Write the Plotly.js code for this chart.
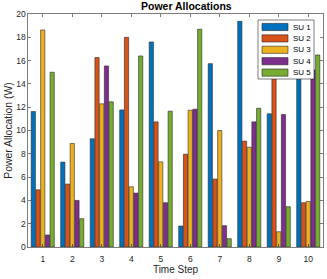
<!DOCTYPE html>
<html>
<head>
<meta charset="utf-8">
<script src="https://cdn.plot.ly/plotly-3.0.1.min.js"></script>
<style>html,body{margin:0;padding:0;background:#fff;}#chart{width:327px;height:279px;}</style>
</head>
<body>
<div id="chart"></div>
<script>
const timeSteps = [1,2,3,4,5,6,7,8,9,10];
const seriesNames = ["SU 1","SU 2","SU 3","SU 4","SU 5"];
const su1 = [11.63, 7.29, 9.29, 11.77, 17.6, 1.8, 15.74, 19.37, 11.43, 15.6];
const su2 = [4.91, 5.4, 16.26, 18.0, 10.74, 7.97, 5.83, 9.09, 16.8, 3.8];
const su3 = [18.63, 8.89, 12.29, 5.17, 7.31, 11.74, 10.0, 8.57, 1.31, 3.91];
const su4 = [1.03, 4.0, 15.54, 4.63, 3.8, 11.83, 1.83, 10.74, 11.37, 15.2];
const su5 = [15.0, 2.43, 12.46, 16.4, 11.66, 18.69, 0.71, 11.91, 3.46, 16.48];
const colors = ["#0072BD","#D95319","#EDB120","#7E2F8E","#77AC30"];
const allSeries = [su1, su2, su3, su4, su5];

const W = 327, H = 279;
const M = {l: 28, r: 4, t: 14, b: 32};
const PW = W - M.l - M.r, PH = H - M.t - M.b;
// helpers to convert pixel positions to paper fractions (legend layout only)
const px = x => (x - M.l) / PW;
const py = y => (H - M.b - y) / PH;

const traces = allSeries.map((vals, i) => ({
  type: "bar",
  x: timeSteps,
  y: vals,
  name: seriesNames[i],
  marker: {color: colors[i], line: {color: "#2a2a2a", width: 0.6}}
}));

// custom legend (MATLAB style)
const legBox = {x0: 258, x1: 314, y0: 20, y1: 79};
const shapes = [{
  type: "rect", xref: "paper", yref: "paper",
  x0: px(legBox.x0), x1: px(legBox.x1), y0: py(legBox.y1), y1: py(legBox.y0),
  fillcolor: "#fff", line: {color: "#262626", width: 0.6}, layer: "above"
}];
const annotations = [];
seriesNames.forEach((nm, i) => {
  const cy = 27 + 11.4 * i;
  shapes.push({
    type: "rect", xref: "paper", yref: "paper",
    x0: px(262), x1: px(288), y0: py(cy + 3.6), y1: py(cy - 3.6),
    fillcolor: colors[i], line: {color: "#2a2a2a", width: 0.6}, layer: "above"
  });
  annotations.push({
    xref: "paper", yref: "paper", x: px(290.5), y: py(cy),
    xanchor: "left", yanchor: "middle", showarrow: false,
    text: nm, font: {family: "Liberation Sans, Arial, sans-serif", size: 8, color: "#000"}
  });
});

const fam = "Liberation Sans, Arial, sans-serif";
const layout = {
  width: W, height: H,
  margin: M,
  paper_bgcolor: "#fff", plot_bgcolor: "#fff",
  font: {family: fam, color: "#262626", size: 8.5},
  barmode: "group",
  bargap: 0.2,
  bargroupgap: 0.1,
  showlegend: false,
  title: {text: "<b>Power Allocations</b>", font: {family: fam, size: 10.5, color: "#000"},
          x: 0.5 + (M.l - M.r) / (2 * W), xanchor: "center", xref: "paper",
          yref: "container", y: 1 - 6.5 / H, yanchor: "middle"},
  xaxis: {
    range: [0.5, 10.5], tickvals: timeSteps, ticktext: timeSteps.map(String),
    ticks: "inside", ticklen: 3, tickcolor: "#262626", tickwidth: 0.6,
    showline: true, linecolor: "#262626", linewidth: 0.6, mirror: "ticks",
    showgrid: false, zeroline: false, ticklabelstandoff: 4,
    title: {text: "Time Step", font: {size: 10, family: fam, color: "#262626"}, standoff: 2},
    tickfont: {size: 8.5}
  },
  yaxis: {
    range: [0, 20], dtick: 2,
    ticks: "inside", ticklen: 3, tickcolor: "#262626", tickwidth: 0.6,
    showline: true, linecolor: "#262626", linewidth: 0.6, mirror: "ticks",
    showgrid: false, zeroline: false,
    title: {text: "Power Allocation (W)", font: {size: 10.4, family: fam, color: "#262626"}, standoff: 1},
    tickfont: {size: 8.5}
  },
  shapes: shapes,
  annotations: annotations
};

Plotly.newPlot("chart", traces, layout, {displayModeBar: false, staticPlot: true});
</script>
</body>
</html>
